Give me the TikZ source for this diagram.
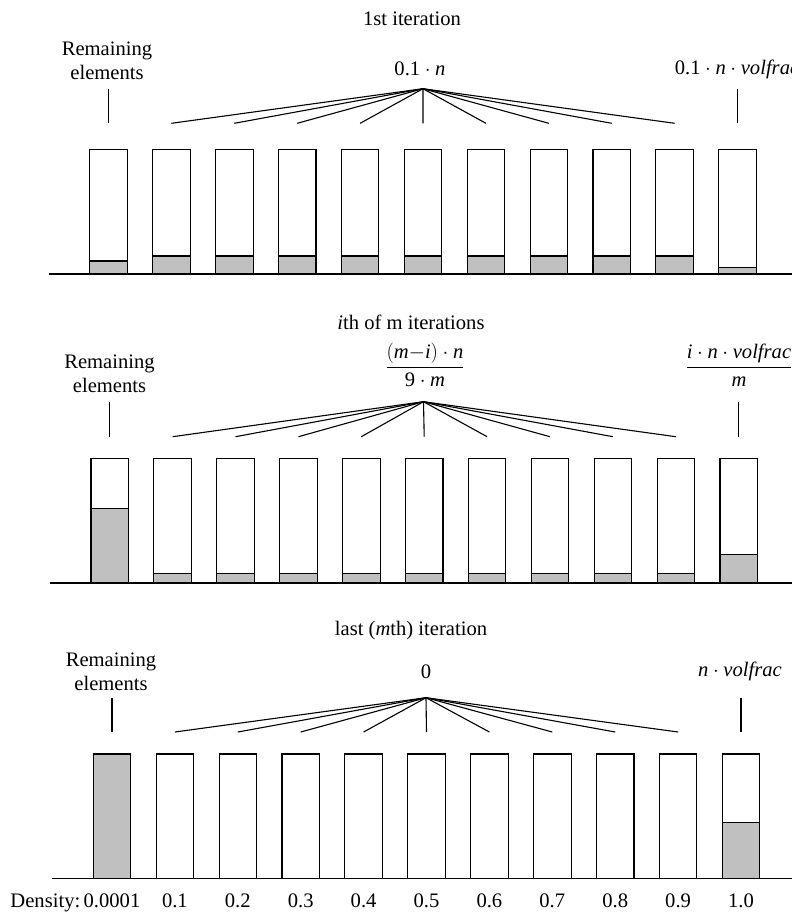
\documentclass[tikz,border=0pt]{standalone}
\usepackage{amsmath}
\usepackage{fontspec}
\setmainfont{Liberation Serif}
\usepackage{tikz}
\usetikzlibrary{positioning}
\definecolor{barfill}{RGB}{192,192,192}

\tikzset{
  bar/.style={draw, line width=1.1pt, minimum width=37.5pt, inner sep=0pt, outer sep=0pt, anchor=south},
  fillpart/.style={draw, line width=1.1pt, fill=barfill},
  lbl/.style={inner sep=0pt, align=center, font=\fontsize{20.6}{24}\selectfont},
  link/.style={line width=1.1pt},
  axis/.style={line width=1.1pt},
}

\begin{document}
\begin{tikzpicture}[x=1pt, y=-1pt]
\useasboundingbox (0,0) rectangle (792,913);

% 1st iteration
\node[lbl] (p1title) at (412,19) {1st iteration};
\foreach \i in {0,...,10}
  \node[bar, minimum height=124.7pt] (p1b\i) at ({108.5+62.9*\i},274) {};
\draw[fillpart] (p1b0.south west) rectangle ([yshift=13pt]p1b0.south east);
\foreach \i in {1,...,9}
  \draw[fillpart] (p1b\i.south west) rectangle ([yshift=18pt]p1b\i.south east);
\draw[fillpart] (p1b10.south west) rectangle ([yshift=6.3pt]p1b10.south east);
\draw[axis] (49,274) -- (792,274);

\node[lbl] (p1rem) at (107,61) {Remaining\\elements};
\node[lbl] (p1mid) at (420,69) {$\text{0.1}\cdot\textit{n}$};
\node[lbl] (p1vol) at (737,69) {$\text{0.1}\cdot\textit{n}\cdot\textit{volfrac}$};
\coordinate (p1apex) at (423,88.7);
\foreach \i in {1,...,9}
  \draw[link] (p1apex) -- ([yshift=26pt]p1b\i.north);
\draw[link] ([yshift=26pt]p1b0.north) -- (p1b0.north |- p1apex);
\draw[link] ([yshift=26pt]p1b10.north) -- (p1b10.north |- p1apex);

% ith of m iterations
\node[lbl] (p2title) at (411,322) {\textit{i}th of m iterations};
\foreach \i in {0,...,10}
  \node[bar, minimum height=124.7pt] (p2b\i) at ({109.7+62.9*\i},583) {};
\draw[fillpart] (p2b0.south west) rectangle ([yshift=74.7pt]p2b0.south east);
\foreach \i in {1,...,9}
  \draw[fillpart] (p2b\i.south west) rectangle ([yshift=9.3pt]p2b\i.south east);
\draw[fillpart] (p2b10.south west) rectangle ([yshift=28.3pt]p2b10.south east);
\draw[axis] (50,583) -- (792,583);

\node[lbl] (p2rem) at (109.5,374) {Remaining\\elements};
\node[lbl] (p2mid) at (425,365) {$\dfrac{(\textit{m}{-}\textit{i})\cdot\textit{n}}{\text{9}\cdot\textit{m}}$};
\node[lbl] (p2vol) at (739,365) {$\dfrac{\textit{i}\cdot\textit{n}\cdot\textit{volfrac}}{\textit{m}}$};
\coordinate (p2apex) at (423.5,401.7);
\foreach \i in {1,...,9}
  \draw[link] (p2apex) -- ([yshift=21.6pt]p2b\i.north);
\draw[link] ([yshift=21.6pt]p2b0.north) -- (p2b0.north |- p2apex);
\draw[link] ([yshift=21.6pt]p2b10.north) -- (p2b10.north |- p2apex);

% last iteration
\node[lbl] (p3title) at (411,631) {last (\textit{m}th) iteration};
\node[bar, minimum height=124.3pt, fill=barfill] (p3b0) at (112,878.3) {};
\foreach \i in {1,...,10}
  \node[bar, minimum height=124.3pt] (p3b\i) at ({112+62.9*\i},878.3) {};
\draw[fillpart] (p3b10.south west) rectangle ([yshift=55.6pt]p3b10.south east);
\draw[axis] (52,878.3) -- (792,878.3);

\node[lbl] (p3rem) at (111,672) {Remaining\\elements};
\node[lbl] (p3mid) at (426,671.7) {0};
\node[lbl] (p3vol) at (740,671) {$\textit{n}\cdot\textit{volfrac}$};
\coordinate (p3apex) at (426,697.7);
\foreach \i in {1,...,9}
  \draw[link] (p3apex) -- ([yshift=22pt]p3b\i.north);
\draw[link] ([yshift=22pt]p3b0.north) -- (p3b0.north |- p3apex);
\draw[link] ([yshift=22pt]p3b10.north) -- (p3b10.north |- p3apex);

% Density axis
\foreach \i/\d in {0/0.0001,1/0.1,2/0.2,3/0.3,4/0.4,5/0.5,6/0.6,7/0.7,8/0.8,9/0.9,10/1.0}
  \node[lbl, anchor=base] (den\i) at (p3b\i.south |- 0,907.5) {\d};
\node[lbl, left=3pt of den0.base west, anchor=base east] (denlbl) {Density:};

\end{tikzpicture}
\end{document}
